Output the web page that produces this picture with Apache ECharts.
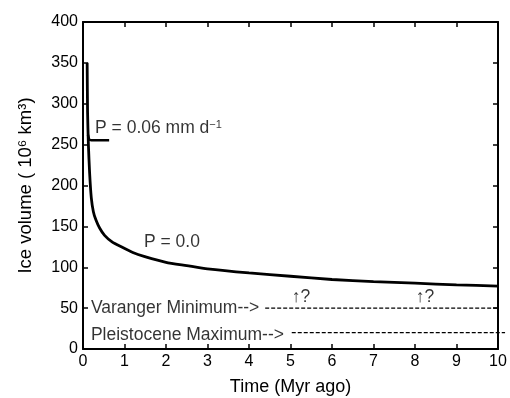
<!DOCTYPE html>
<html>
<head>
<meta charset="utf-8">
<script src="https://cdn.jsdelivr.net/npm/echarts@6/dist/echarts.min.js"></script>
<style>html,body{margin:0;padding:0;background:#fff}#c{width:510px;height:398px}</style>
</head>
<body>
<div id="c"></div>
<script>
// Main curve P = 0.0 : time (Myr ago), ice volume (10^6 km^3)
const timeP0 = [0.1, 0.11, 0.13, 0.16, 0.2, 0.25, 0.31, 0.4, 0.52, 0.7, 0.92, 1.2, 1.49, 2, 2.5, 3, 4, 5, 6, 7, 8, 9, 10];
const iceP0  = [350, 290, 250, 215, 185, 168, 158, 148, 139, 131, 125, 118, 113, 106, 102, 98, 93, 89, 85, 82.5, 80.5, 78.5, 77];
// Branch P = 0.06 mm/d
const timeP06 = [0.12, 0.15, 0.2, 0.63];
const iceP06  = [262, 256.5, 255.5, 255.5];
// Reference levels: [xStart, xEnd, level]
const levelStart = [4.39, 5.03];
const levelEnd   = [10, 10.17];
const levelValue = [50, 20];
// Annotations
const annoText = ['P = 0.06 mm d{s|\u22121}', 'P = 0.0', 'Varanger Minimum-->', 'Pleistocene Maximum-->', '\u2191?', '\u2191?'];
const annoX = [0.29, 1.47, 0.19, 0.19, 5.03, 8.02];
const annoY = [270, 131, 50, 17, 64, 64];
// Axis ticks
const xTicks = [0, 1, 2, 3, 4, 5, 6, 7, 8, 9, 10];
const yTicks = [0, 50, 100, 150, 200, 250, 300, 350, 400];

const FONT = '"Liberation Sans", "DejaVu Sans", sans-serif';
const zip = (a, b) => a.map((v, i) => [v, b[i]]);

const axisCommon = {
  axisLine: { show: true, onZero: false, lineStyle: { color: '#000', width: 2 } },
  axisTick: { show: true, inside: true, length: 5, lineStyle: { color: '#000', width: 1.5 } },
  splitLine: { show: false }
};

const chart = echarts.init(document.getElementById('c'), null, { renderer: 'canvas' });
chart.setOption({
  animation: false,
  backgroundColor: '#fff',
  grid: { left: 83, right: 12, top: 22, bottom: 49, containLabel: false, outerBoundsMode: 'none' },
  xAxis: [
    Object.assign({}, axisCommon, {
      type: 'value', min: xTicks[0], max: xTicks[xTicks.length - 1], interval: 1,
      position: 'bottom',
      name: 'Time (Myr ago)', nameLocation: 'middle', nameGap: 29,
      nameTextStyle: { fontFamily: FONT, fontSize: 18, color: '#000' },
      axisLabel: { fontFamily: FONT, fontSize: 16, color: '#000', margin: 5 }
    }),
    Object.assign({}, axisCommon, {
      type: 'value', min: xTicks[0], max: xTicks[xTicks.length - 1], interval: 1,
      position: 'top', axisLabel: { show: false }
    })
  ],
  yAxis: [
    Object.assign({}, axisCommon, {
      type: 'value', min: yTicks[0], max: yTicks[yTicks.length - 1], interval: 50,
      position: 'left',
      name: 'Ice volume ( 10\u2076 km\u00b3)', nameLocation: 'middle', nameGap: 48,
      nameTextStyle: { fontFamily: FONT, fontSize: 18.5, color: '#000' },
      axisLabel: { fontFamily: FONT, fontSize: 16, color: '#000', margin: 5 }
    }),
    Object.assign({}, axisCommon, {
      type: 'value', min: yTicks[0], max: yTicks[yTicks.length - 1], interval: 50,
      position: 'right', axisLabel: { show: false }
    })
  ],
  series: [
    { type: 'line', data: zip(timeP0, iceP0), smooth: 0.2, showSymbol: false,
      lineStyle: { color: '#000', width: 2.8 }, z: 5 },
    { type: 'line', data: zip(timeP06, iceP06), smooth: 0.2, showSymbol: false,
      lineStyle: { color: '#000', width: 2.5 }, z: 5 },
    { type: 'custom', clip: false, silent: true,
      data: levelValue.map((v, i) => [levelStart[i], levelEnd[i], v]),
      encode: { x: [0, 1], y: 2 },
      renderItem: (params, api) => {
        const p1 = api.coord([api.value(0), api.value(2)]);
        const p2 = api.coord([api.value(1), api.value(2)]);
        return { type: 'line', shape: { x1: p1[0], y1: p1[1], x2: p2[0], y2: p2[1] },
          style: { stroke: '#000', lineWidth: 1.1, lineDash: [4, 2] } };
      } },
    { type: 'scatter', symbolSize: 0, clip: false,
      data: annoText.map((t, i) => ({ value: [annoX[i], annoY[i]], name: t })),
      label: { show: true, position: 'right', distance: 0, formatter: p => p.name,
        fontFamily: FONT, fontSize: 17.5, color: '#000',
        rich: { s: { fontFamily: FONT, fontSize: 11, color: '#000', verticalAlign: 'top', lineHeight: 18 } } },
      silent: true, z: 6 }
  ]
});
</script>
</body>
</html>
